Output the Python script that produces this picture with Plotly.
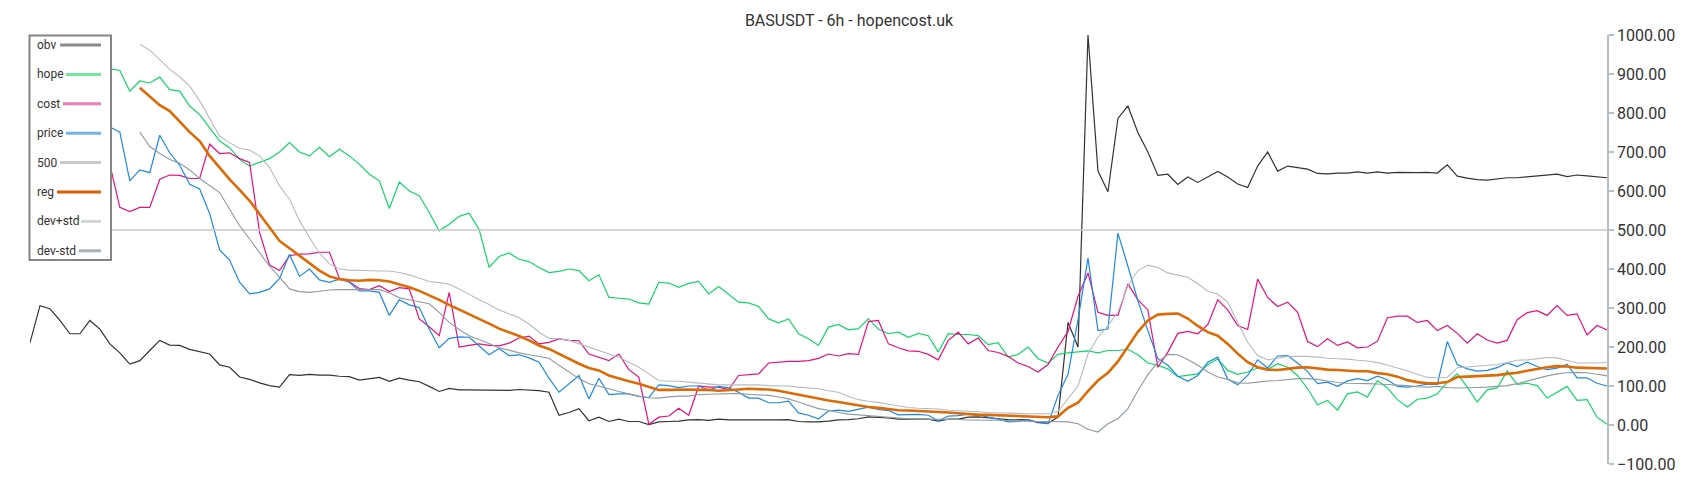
import plotly.graph_objects as go

TITLE = "BASUSDT - 6h - hopencost.uk"
N = 159
REG_START = 11
LEVEL = 500

obv = [211, 306, 298, 268, 234, 234, 268, 246, 208, 185, 156, 165, 191, 217, 205, 204, 194, 188, 182, 154,
       148, 123, 117, 108, 101, 97, 129,
       127, 130, 128, 128, 125, 124, 115, 118, 122, 112, 120, 115, 111, 99, 86, 94, 90, 90, 90, 89, 90, 89,
       91, 90, 88, 84,
       25, 32, 42, 11, 20, 9, 15, 9, 9, 1, 8, 9, 10, 13, 14, 12, 15, 13, 13, 13, 12, 13, 13, 14, 9, 8, 8,
       10, 13, 14, 16, 21, 20, 18, 15, 15, 16, 15, 10, 15, 15, 20, 21, 18, 16, 14, 14, 13, 6, 5,
       20, 263, 200, 1000, 651, 598, 786, 818, 750, 700, 640, 643, 617, 636, 622, 635, 650, 636, 618, 609,
       664, 700, 651, 664, 660, 656, 645, 644, 646, 646, 649, 646, 649, 646, 648, 647, 647, 648, 646, 667,
       638, 633, 629, 628, 631, 634, 634, 636, 638, 641, 643, 637, 641, 639, 637, 634]

hope = [880, 895, 905, 910, 900, 915, 920, 915,
        913, 909, 856, 882, 877, 892, 860, 856, 818, 796, 762, 728, 711, 681, 664, 673, 683, 700, 724,
        700, 690, 712, 688, 707, 690, 669, 643, 626, 555, 623, 600, 588, 545, 498, 515, 535, 543, 501, 404,
        432, 441, 425, 419, 404, 391,
        394, 400, 396, 370, 385, 327, 325, 323, 313, 310, 366, 364, 353, 363, 368, 336, 355, 336, 315, 313,
        304, 272, 262, 272, 234, 221, 204,
        251, 258, 244, 247, 272, 246, 234, 238, 225, 235, 229, 187, 234, 232, 232, 229, 206, 211, 174, 181,
        200, 170, 159, 181, 185, 188,
        190, 185, 191, 191, 194, 180, 159, 153, 144, 124, 127, 131, 155, 169, 140, 130, 136, 146, 142, 157,
        148, 127, 93, 52, 63,
        38, 80, 85, 72, 114, 95, 65, 46, 66, 69, 80, 110, 131, 97, 59, 90, 95, 138, 104, 107, 101, 69, 84,
        99, 63, 65, 20, 2]

cost = [700, 710, 690, 720, 705, 690, 700, 690,
        668, 558, 547, 558, 558, 630, 641, 640, 632, 632, 720, 696, 698, 683, 673, 494, 410, 396, 434,
        438, 439, 443, 443, 376, 367, 350, 347, 357, 342, 352, 349, 272, 252, 229, 340, 200, 204, 208, 204,
        203, 210, 223, 228, 208, 212,
        221, 217, 216, 182, 174, 165, 182, 142, 123, 2, 20, 23, 43, 25, 100, 97, 97, 91, 127, 129, 131, 159,
        161, 163, 163, 165, 171,
        182, 177, 183, 181, 265, 268, 208, 198, 190, 189, 181, 167, 217, 238, 208, 223, 191, 186, 176, 159,
        150, 136, 155, 200, 240, 330,
        390, 289, 281, 281, 362, 321, 295, 148, 187, 235, 240, 234, 257, 321, 295, 255, 245, 374, 327, 304,
        315, 289, 214, 201, 221,
        204, 213, 198, 200, 215, 275, 279, 279, 263, 268, 242, 255, 235, 210, 234, 218, 210, 217, 270, 288,
        293, 281, 306, 281, 285, 231, 255, 244]

price = [740, 730, 760, 750, 770, 760, 775, 765,
         764, 751, 626, 654, 647, 743, 698, 666, 617, 605, 542, 449, 423, 366, 336, 340, 349, 376, 438,
         381, 400, 372, 366, 374, 366, 344, 344, 340, 281, 321, 308, 301, 246, 198, 222, 226, 225, 202, 180,
         196, 178, 180, 172, 161, 120,
         84, 106, 127, 67, 120, 78, 80, 80, 73, 70, 103, 101, 96, 100, 100, 89, 99, 95, 84, 69, 69, 57, 57,
         61, 31, 25, 16,
         36, 38, 35, 40, 46, 40, 37, 26, 26, 27, 25, 10, 23, 24, 28, 27, 20, 15, 8, 9, 14, 7, 3, 76, 130, 270,
         428, 242, 246, 492, 407, 319, 242, 170, 153, 125, 112, 127, 161, 174, 118, 103, 127, 167, 146, 177,
         178, 159, 137, 106, 110,
         99, 113, 119, 114, 125, 116, 99, 97, 100, 105, 104, 214, 155, 144, 138, 140, 147, 160, 150, 161, 150,
         142, 146, 156, 121, 121, 107, 100]

reg = [865, 843, 820, 805, 779, 751, 728, 690, 660, 630, 603, 575, 541, 507, 472, 453,
       434, 415, 396, 381, 374, 371, 370, 372, 371, 368, 361, 353, 344, 333, 321, 308, 296, 284, 274, 260,
       247, 238, 228, 217, 204, 195,
       182, 170, 157, 146, 140, 127, 119, 112, 106, 97, 90, 90, 91, 91, 90, 90, 88, 89, 91, 93, 92, 91, 88,
       83, 78, 73, 67,
       63, 59, 55, 50, 46, 44, 41, 38, 37, 36, 35, 33, 32, 30, 28, 26, 26, 25, 24, 23, 22, 20, 20, 22, 44, 57,
       87, 114, 134, 163, 201, 239, 268, 283, 285, 286, 273, 254, 238, 229, 208, 183, 161, 148, 142, 141,
       144, 147, 148, 145, 142,
       141, 139, 138, 138, 133, 130, 124, 115, 110, 107, 107, 110, 123, 124, 125, 126, 128, 131, 134, 139,
       144, 148, 151, 150, 147, 146, 145, 145]

dev_plus = [976, 961, 937, 912, 893, 869, 831, 784, 741, 724, 709, 705, 690, 660, 613, 579,
            524, 481, 441, 413, 400, 397, 396, 396, 395, 395, 391, 385, 376, 368, 365, 361, 349, 334, 321,
            309, 295, 285, 275, 259, 238, 222,
            221, 217, 208, 200, 191, 182, 174, 161, 148, 131, 114, 112, 112, 110, 108, 106, 103, 103, 103,
            103, 103, 101, 101, 100, 97, 95, 93,
            88, 84, 73, 65, 61, 58, 53, 49, 45, 43, 42, 41, 38, 37, 35, 34, 32, 31, 31, 30, 29, 29, 29, 35, 67,
            100,
            182, 225, 255, 289, 357, 396, 410, 404, 390, 385, 379, 362, 343, 336, 315, 263, 212, 178, 167, 171,
            176, 176, 176, 174, 171,
            170, 169, 166, 164, 160, 154, 146, 139, 130, 122, 121, 122, 147, 149, 151, 153, 155, 160, 166, 167,
            170, 173, 172, 166, 159, 159, 159, 161]

dev_minus = [751, 714, 696, 681, 671, 654, 632, 615, 596, 553, 511, 477, 443, 407, 379, 349,
             342, 340, 343, 346, 347, 347, 347, 347, 347, 339, 326, 321, 316, 311, 289, 263, 245, 229, 219,
             208, 198, 192, 185, 180, 176, 171,
             153, 136, 119, 106, 100, 93, 86, 80, 74, 70, 69, 72, 74, 74, 78, 79, 80, 81, 81, 79, 78, 76, 72,
             67, 59, 50, 42,
             38, 32, 28, 26, 24, 22, 20, 17, 16, 15, 15, 14, 14, 14, 13, 12, 12, 12, 11, 10, 10, 9, 9, 9, 8, 3,
             -11, -18, 3, 16, 42, 88, 129, 161, 181, 180, 168, 153, 136, 123, 117, 108, 107, 110, 113, 114,
             117, 119, 119, 117, 113,
             109, 107, 107, 106, 105, 104, 102, 101, 98, 97, 99, 96, 95, 95, 96, 97, 99, 101, 106, 113, 119,
             126, 131, 134, 135, 134, 130, 126]

y_ticks = [-100, 0, 100, 200, 300, 400, 500, 600, 700, 800, 900, 1000]

# styling
COL = {
    "obv": "#333333", "hope": "#12d66a", "cost": "#e6107e", "price": "#1e88e5",
    "500": "#c8c8c8", "reg": "#dd6a04", "dev+std": "#b3bcc3", "dev-std": "#8f9aa3",
}
LEG_COL = {
    "obv": "#8a8a8a", "hope": "#73e6a0", "cost": "#f07bb8", "price": "#74b4ee",
    "500": "#c8c8c8", "reg": "#d35f00", "dev+std": "#d0d6da", "dev-std": "#a7b0b7",
}
WID = {"obv": 1.2, "hope": 1.2, "cost": 1.2, "price": 1.2, "500": 1.6, "reg": 2.6,
       "dev+std": 1.1, "dev-std": 1.1}

x_all = list(range(N))
x_reg = list(range(REG_START, N))

series = [
    ("obv", x_all, obv),
    ("hope", x_all, hope),
    ("cost", x_all, cost),
    ("price", x_all, price),
    ("500", x_all, [LEVEL] * N),
    ("reg", x_reg, reg),
    ("dev+std", x_reg, dev_plus),
    ("dev-std", x_reg, dev_minus),
]

fig = go.Figure()
for name, xs, ys in series:
    fig.add_trace(go.Scatter(x=xs, y=ys, name=name, mode="lines",
                             line=dict(color=COL[name], width=WID[name]),
                             showlegend=False, hoverinfo="skip"))

# page has an 8px body margin; figure coordinates are page coordinates minus OFF
OFF = 8
W, H = 1700 - OFF, 500 - OFF
PL, PR, PT, PB = 30 - OFF, 1607 - OFF, 35 - OFF, 464 - OFF


def px(x):
    return (x - OFF - PL) / (PR - PL)


def py(y):
    return (PB - (y - OFF)) / (PB - PT)


shapes = [dict(type="rect", xref="paper", yref="paper", layer="above",
               x0=px(29.5), x1=px(111), y0=py(260), y1=py(35.5),
               fillcolor="white", line=dict(color="#858585", width=2))]
annotations = []
leg_starts = [60, 66, 63, 66, 60, 57, 81, 79]
for k, (name, _, _) in enumerate(series):
    yc = 45 + 29.4 * k
    annotations.append(dict(text=name, xref="paper", yref="paper", x=px(35), y=py(yc),
                            xanchor="left", yanchor="middle", showarrow=False,
                            font=dict(family="Roboto", size=12, color="#333333")))
    shapes.append(dict(type="line", xref="paper", yref="paper", layer="above",
                       x0=px(leg_starts[k]), x1=px(101), y0=py(yc), y1=py(yc),
                       line=dict(color=LEG_COL[name], width=3)))

fig.update_layout(
    width=W, height=H,
    margin=dict(l=PL, r=W - PR, t=PT, b=H - PB, autoexpand=False),
    paper_bgcolor="white", plot_bgcolor="white",
    title=dict(text=TITLE, x=(849 - OFF) / W, xanchor="center", y=1 - (20 - OFF) / H, yanchor="middle",
               font=dict(family="Roboto", size=16, color="#333333")),
    xaxis=dict(visible=False, range=[0, N - 1]),
    yaxis=dict(side="right", range=[-100, 1000], tickvals=y_ticks, tickformat=".2f",
               showgrid=False, zeroline=False, showline=True, linecolor="#b5bfc6", linewidth=1.8,
               ticks="outside", ticklen=5, tickwidth=1.5, tickcolor="#b5bfc6",
               tickfont=dict(family="Roboto", size=16, color="#333333")),
    shapes=shapes, annotations=annotations,
    showlegend=False,
    hovermode=False,
)

fig.write_html("out.html")
